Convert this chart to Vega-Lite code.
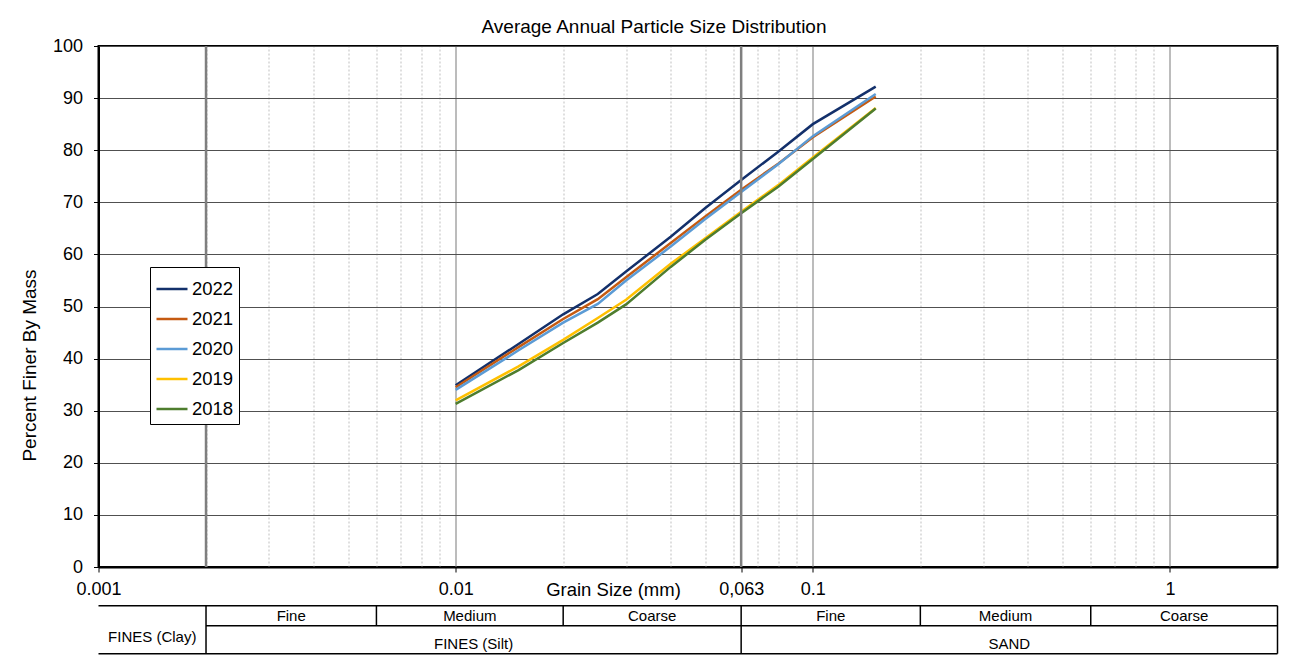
{
  "$schema": "https://vega.github.io/schema/vega-lite/v6.json",
  "width": 1179,
  "height": 521,
  "autosize": {"type": "none"},
  "padding": {"left": 98.5, "top": 46, "right": 24.5, "bottom": 102},
  "background": "white",
  "title": {"text": "Average Annual Particle Size Distribution", "fontSize": 19, "fontWeight": "normal", "color": "black", "font": "Liberation Sans", "dx": -34, "offset": 0},
  "config": {
    "font": "Liberation Sans",
    "view": {"stroke": "black", "strokeWidth": 2},
    "axis": {"labelFont": "Liberation Sans", "titleFont": "Liberation Sans", "labelColor": "black", "titleColor": "black", "labelFontSize": 18, "titleFontSize": 19, "titleFontWeight": "normal", "tickColor": "black", "domainColor": "black", "domainWidth": 2, "tickSize": 5}
  },
  "datasets": {
    "psd": [
      {"year": "2022", "size": 0.01, "pct": 34.9}, {"year": "2022", "size": 0.015, "pct": 42.8}, {"year": "2022", "size": 0.02, "pct": 48.5}, {"year": "2022", "size": 0.025, "pct": 52.4}, {"year": "2022", "size": 0.03, "pct": 56.7}, {"year": "2022", "size": 0.04, "pct": 63.4}, {"year": "2022", "size": 0.05, "pct": 68.9}, {"year": "2022", "size": 0.063, "pct": 74.3}, {"year": "2022", "size": 0.08, "pct": 79.7}, {"year": "2022", "size": 0.1, "pct": 85.0}, {"year": "2022", "size": 0.15, "pct": 92.2},
      {"year": "2021", "size": 0.01, "pct": 34.5}, {"year": "2021", "size": 0.015, "pct": 42.2}, {"year": "2021", "size": 0.02, "pct": 47.6}, {"year": "2021", "size": 0.025, "pct": 51.4}, {"year": "2021", "size": 0.03, "pct": 55.6}, {"year": "2021", "size": 0.04, "pct": 62.2}, {"year": "2021", "size": 0.05, "pct": 67.3}, {"year": "2021", "size": 0.063, "pct": 72.4}, {"year": "2021", "size": 0.08, "pct": 77.4}, {"year": "2021", "size": 0.1, "pct": 82.5}, {"year": "2021", "size": 0.15, "pct": 90.3},
      {"year": "2020", "size": 0.01, "pct": 34.0}, {"year": "2020", "size": 0.015, "pct": 41.6}, {"year": "2020", "size": 0.02, "pct": 46.9}, {"year": "2020", "size": 0.025, "pct": 50.5}, {"year": "2020", "size": 0.03, "pct": 55.0}, {"year": "2020", "size": 0.04, "pct": 61.5}, {"year": "2020", "size": 0.05, "pct": 66.8}, {"year": "2020", "size": 0.063, "pct": 72.0}, {"year": "2020", "size": 0.08, "pct": 77.3}, {"year": "2020", "size": 0.1, "pct": 82.7}, {"year": "2020", "size": 0.15, "pct": 90.8},
      {"year": "2019", "size": 0.01, "pct": 32.0}, {"year": "2019", "size": 0.015, "pct": 38.5}, {"year": "2019", "size": 0.02, "pct": 43.6}, {"year": "2019", "size": 0.025, "pct": 47.8}, {"year": "2019", "size": 0.03, "pct": 51.3}, {"year": "2019", "size": 0.04, "pct": 58.2}, {"year": "2019", "size": 0.05, "pct": 63.1}, {"year": "2019", "size": 0.063, "pct": 68.2}, {"year": "2019", "size": 0.08, "pct": 73.3}, {"year": "2019", "size": 0.1, "pct": 78.6}, {"year": "2019", "size": 0.15, "pct": 88.1},
      {"year": "2018", "size": 0.01, "pct": 31.3}, {"year": "2018", "size": 0.015, "pct": 37.8}, {"year": "2018", "size": 0.02, "pct": 43.0}, {"year": "2018", "size": 0.025, "pct": 46.9}, {"year": "2018", "size": 0.03, "pct": 50.4}, {"year": "2018", "size": 0.04, "pct": 57.6}, {"year": "2018", "size": 0.05, "pct": 62.8}, {"year": "2018", "size": 0.063, "pct": 67.9}, {"year": "2018", "size": 0.08, "pct": 73.0}, {"year": "2018", "size": 0.1, "pct": 78.3}, {"year": "2018", "size": 0.15, "pct": 88.0}
    ],
    "bounds": [{"size": 0.002}, {"size": 0.063}],
    "tablelines": [
      {"start": 0.001, "end": 2, "upper": -7.43, "lower": -7.43},
      {"start": 0.002, "end": 2, "upper": -11.27, "lower": -11.27},
      {"start": 0.001, "end": 2, "upper": -16.64, "lower": -16.64},
      {"start": 0.002, "end": 0.002, "upper": -7.43, "lower": -16.64},
      {"start": 0.006, "end": 0.006, "upper": -7.43, "lower": -11.27},
      {"start": 0.02, "end": 0.02, "upper": -7.43, "lower": -11.27},
      {"start": 0.063, "end": 0.063, "upper": -7.43, "lower": -16.64},
      {"start": 0.2, "end": 0.2, "upper": -7.43, "lower": -11.27},
      {"start": 0.6, "end": 0.6, "upper": -7.43, "lower": -11.27},
      {"start": 2, "end": 2, "upper": -7.43, "lower": -16.64}
    ],
    "cells": [
      {"name": "Fine", "lo": 0.002, "hi": 0.006, "level": -9.5},
      {"name": "Medium", "lo": 0.006, "hi": 0.02, "level": -9.5},
      {"name": "Coarse", "lo": 0.02, "hi": 0.063, "level": -9.5},
      {"name": "Fine", "lo": 0.063, "hi": 0.2, "level": -9.5},
      {"name": "Medium", "lo": 0.2, "hi": 0.6, "level": -9.5},
      {"name": "Coarse", "lo": 0.6, "hi": 2, "level": -9.5},
      {"name": "FINES (Clay)", "lo": 0.001, "hi": 0.002, "level": -13.4},
      {"name": "FINES (Silt)", "lo": 0.002, "hi": 0.063, "level": -14.8},
      {"name": "SAND", "lo": 0.063, "hi": 2, "level": -14.8}
    ]
  },
  "resolve": {"axis": {"x": "independent", "y": "independent"}},
  "layer": [
    {
      "data": {"name": "psd"},
      "mark": {"type": "line", "strokeWidth": 2.5},
      "encoding": {
        "x": {"field": "size", "type": "quantitative", "scale": {"type": "log", "domain": [0.001, 2], "nice": false},
          "axis": {"orient": "bottom", "values": [0.001, 0.01, 0.063, 0.1, 1], "labelExpr": "datum.value == 0.063 ? '0,063' : '' + datum.value", "labelFlush": false, "labelBound": false, "labelOverlap": false, "labelPadding": 8, "grid": false,
            "title": "Grain Size (mm)", "titleFontSize": 18.5, "titleX": 514.5, "titleY": 13.5, "titleBaseline": "top", "titleAlign": "center"}},
        "y": {"field": "pct", "type": "quantitative", "scale": {"domain": [0, 100], "nice": false},
          "axis": {"orient": "left", "values": [0, 10, 20, 30, 40, 50, 60, 70, 80, 90, 100], "grid": true, "gridColor": "#505050", "gridWidth": 1.2, "labelPadding": 11, "title": "Percent Finer By Mass", "titlePadding": 13, "titleY": 319, "titleAlign": "center"}},
        "color": {"field": "year", "type": "nominal",
          "scale": {"domain": ["2022", "2021", "2020", "2019", "2018"], "range": ["#13306B", "#C55A11", "#5B9BD5", "#FFC000", "#4E7D2E"]},
          "legend": {"title": null, "orient": "none", "legendX": 51.5, "legendY": 221, "direction": "vertical", "symbolType": "stroke", "symbolSize": 961, "symbolStrokeWidth": 2.5, "labelFontSize": 18.5, "labelFont": "Liberation Sans", "labelColor": "black", "labelOffset": 3, "rowPadding": 3, "padding": 5, "strokeColor": "black", "fillColor": "white"}}
      }
    },
    {
      "data": {"name": "bounds"},
      "mark": {"type": "rule", "color": "#7F7F7F", "strokeWidth": 2.5},
      "encoding": {
        "x": {"field": "size", "type": "quantitative", "scale": {"type": "log", "domain": [0.001, 2], "nice": false},
          "axis": {"orient": "bottom", "values": [0.002, 0.003, 0.004, 0.005, 0.006, 0.007, 0.008, 0.009, 0.02, 0.03, 0.04, 0.05, 0.06, 0.07, 0.08, 0.09, 0.2, 0.3, 0.4, 0.5, 0.6, 0.7, 0.8, 0.9], "grid": true, "gridColor": "#BFBFBF", "gridDash": [2, 2], "gridWidth": 1, "labels": false, "ticks": false, "domain": false, "title": null}}
      }
    },
    {
      "data": {"name": "tablelines"},
      "mark": {"type": "rule", "color": "black", "strokeWidth": 1.5},
      "encoding": {
        "x": {"field": "start", "type": "quantitative", "scale": {"type": "log", "domain": [0.001, 2], "nice": false},
          "axis": {"orient": "bottom", "values": [0.01, 0.1, 1], "grid": true, "gridColor": "#A6A6A6", "gridWidth": 1.5, "labels": false, "ticks": false, "domain": false, "title": null}},
        "x2": {"field": "end"},
        "y": {"field": "upper", "type": "quantitative", "scale": {"domain": [0, 100], "nice": false}, "axis": null},
        "y2": {"field": "lower"}
      }
    },
    {
      "data": {"name": "cells"},
      "transform": [{"calculate": "sqrt(datum.lo * datum.hi)", "as": "mid"}],
      "mark": {"type": "text", "fontSize": 15, "baseline": "middle", "align": "center", "color": "black", "font": "Liberation Sans"},
      "encoding": {
        "x": {"field": "mid", "type": "quantitative", "scale": {"type": "log", "domain": [0.001, 2], "nice": false}, "axis": null},
        "y": {"field": "level", "type": "quantitative", "scale": {"domain": [0, 100], "nice": false}, "axis": null},
        "text": {"field": "name"}
      }
    }
  ]
}
